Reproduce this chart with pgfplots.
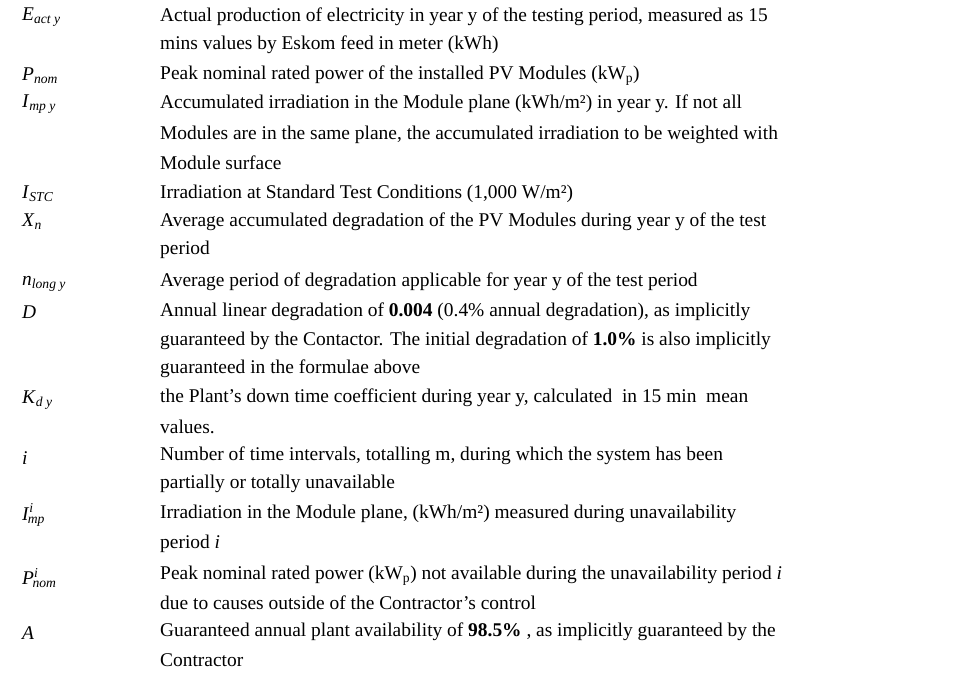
\documentclass[border=0pt]{standalone}
\usepackage{fontspec}
\setmainfont{Liberation Serif}
\usepackage{pgfplots}
\pgfplotsset{compat=1.18}
\newcommand{\s}[1]{\textsubscript{#1}}
\newcommand{\kwp}{kW\textsubscript{p}}
\tikzset{t/.style={anchor=west,inner sep=0pt,font=\fontsize{19.5}{24}\selectfont}}
\begin{document}
\begin{tikzpicture}[x=1bp,y=1bp]
\begin{axis}[width=966bp,height=673bp,scale only axis,axis lines=none,
  xmin=0,xmax=966,ymin=0,ymax=673,y dir=reverse,clip=false]
\addplot[draw=none] coordinates {(0,0) (966,673)};
% symbols
\node[t] at (axis cs:22,17) {\textit{E}\s{\textit{act y}}};
\node[t] at (axis cs:22,76) {\textit{P}\s{\textit{nom}}};
\node[t] at (axis cs:22,104) {\textit{I}\s{\textit{mp y}}};
\node[t] at (axis cs:22,194) {\textit{I}\s{\textit{STC}}};
\node[t] at (axis cs:22,222) {\textit{X}\s{\textit{n}}};
\node[t] at (axis cs:22,284) {\textit{n}\s{\textit{long y}}};
\node[t] at (axis cs:22,312) {\textit{D}};
\node[t] at (axis cs:22,400) {\textit{K}\s{\textit{d y}}};
\node[t] at (axis cs:22,458) {\textit{i}};
\node[t] at (axis cs:22,515) {\textit{I}\textsuperscript{\textit{i}}\kern-0.3em\s{\textit{mp}}};
\node[t] at (axis cs:22,578) {\textit{P}\textsuperscript{\textit{i}}\kern-0.3em\s{\textit{nom}}};
\node[t] at (axis cs:22,633) {\textit{A}};
% texts
\node[t] at (axis cs:160,17) {Actual production of electricity in year y of the testing period, measured as 15};
\node[t] at (axis cs:160,45) {mins values by Eskom feed in meter (kWh)};
\node[t] at (axis cs:160,76) {Peak nominal rated power of the installed PV Modules (\kwp)};
\node[t] at (axis cs:160,104) {Accumulated irradiation in the Module plane (kWh/m²) in year y. If not all};
\node[t] at (axis cs:160,135) {Modules are in the same plane, the accumulated irradiation to be weighted with};
\node[t] at (axis cs:160,163) {Module surface};
\node[t] at (axis cs:160,194) {Irradiation at Standard Test Conditions (1,000 W/m²)};
\node[t] at (axis cs:160,222) {Average accumulated degradation of the PV Modules during year y of the test};
\node[t] at (axis cs:160,250) {period};
\node[t] at (axis cs:160,282) {Average period of degradation applicable for year y of the test period};
\node[t] at (axis cs:160,312) {Annual linear degradation of \textbf{0.004} (0.4\% annual degradation), as implicitly};
\node[t] at (axis cs:160,341) {guaranteed by the Contactor. The initial degradation of \textbf{1.0\%} is also implicitly};
\node[t] at (axis cs:160,369) {guaranteed in the formulae above};
\node[t] at (axis cs:160,398) {the Plant’s down time coefficient during year y, calculated \ in 15 min \ mean};
\node[t] at (axis cs:160,427) {values.};
\node[t] at (axis cs:160,456) {Number of time intervals, totalling m, during which the system has been};
\node[t] at (axis cs:160,484) {partially or totally unavailable};
\node[t] at (axis cs:160,514) {Irradiation in the Module plane, (kWh/m²) measured during unavailability};
\node[t] at (axis cs:160,544) {period \textit{i}};
\node[t] at (axis cs:160,576) {Peak nominal rated power (\kwp) not available during the unavailability period \textit{i}};
\node[t] at (axis cs:160,603) {due to causes outside of the Contractor’s control};
\node[t] at (axis cs:160,632) {Guaranteed annual plant availability of \textbf{98.5\%} , as implicitly guaranteed by the};
\node[t] at (axis cs:160,660) {Contractor};
\end{axis}
\end{tikzpicture}
\end{document}
